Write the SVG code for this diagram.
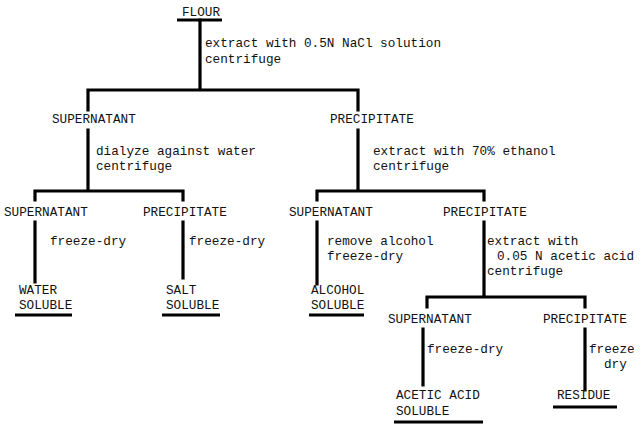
<svg xmlns="http://www.w3.org/2000/svg" width="644" height="425" viewBox="0 0 644 425">
<style>
text{font-family:"Liberation Mono","DejaVu Sans Mono",monospace;font-size:12.7px;fill:#111}
.c{stroke:#000;stroke-width:3.2;fill:none;stroke-linecap:square}
.u{stroke:#000;stroke-width:3;fill:none}
</style>
<rect width="644" height="425" fill="#fff"/>
<g id="connectors">
<path class="c" d="M200 20V90M88 90H358M88 90V110M358 90V110"/>
<path class="c" d="M88 130V191M35 191H183M35 191V200M183 191V200"/>
<path class="c" d="M358 130V191M317 191H484M317 191V200M484 191V200"/>
<path class="c" d="M35 222V282M183 222V278M317 222V284"/>
<path class="c" d="M484 222V297M427 297H585M427 297V307M585 297V307"/>
<path class="c" d="M423 329V385M585 329V390"/>
</g>
<g id="flour"><text x="182" y="16">FLOUR</text><path class="u" d="M177 20H222"/></g>
<g id="step1"><text x="205" y="47">extract with 0.5N NaCl solution</text><text x="205" y="63">centrifuge</text></g>
<g id="sup1"><text x="52" y="123">SUPERNATANT</text></g>
<g id="pre1"><text x="330" y="123">PRECIPITATE</text></g>
<g id="step2a"><text x="96" y="155">dialyze against water</text><text x="96" y="170">centrifuge</text></g>
<g id="step2b"><text x="373" y="155">extract with 70% ethanol</text><text x="373" y="170">centrifuge</text></g>
<g id="sup2a"><text x="4" y="216">SUPERNATANT</text></g>
<g id="pre2a"><text x="143" y="216">PRECIPITATE</text></g>
<g id="sup2b"><text x="289" y="216">SUPERNATANT</text></g>
<g id="pre2b"><text x="443" y="216">PRECIPITATE</text></g>
<g id="step3a"><text x="50" y="245">freeze-dry</text></g>
<g id="step3b"><text x="189" y="245">freeze-dry</text></g>
<g id="step3c"><text x="327" y="245">remove alcohol</text><text x="327" y="260">freeze-dry</text></g>
<g id="step3d"><text x="487" y="245">extract with</text><text x="497" y="260">0.05 N acetic acid</text><text x="487" y="275">centrifuge</text></g>
<g id="water"><text x="19" y="294">WATER</text><text x="19" y="309">SOLUBLE</text><path class="u" d="M15 315H72"/></g>
<g id="salt"><text x="166" y="294">SALT</text><text x="166" y="309">SOLUBLE</text><path class="u" d="M162 315H220"/></g>
<g id="alcohol"><text x="311" y="294">ALCOHOL</text><text x="311" y="309">SOLUBLE</text><path class="u" d="M309 315H364"/></g>
<g id="sup3"><text x="388" y="323">SUPERNATANT</text></g>
<g id="pre3"><text x="543" y="323">PRECIPITATE</text></g>
<g id="step4a"><text x="427" y="353">freeze-dry</text></g>
<g id="step4b"><text x="589" y="353">freeze</text><text x="604" y="368">dry</text></g>
<g id="acetic"><text x="396" y="399">ACETIC ACID</text><text x="396" y="415">SOLUBLE</text><path class="u" d="M394 422H483"/></g>
<g id="residue"><text x="557" y="399">RESIDUE</text><path class="u" d="M553 407H617"/></g>
</svg>
